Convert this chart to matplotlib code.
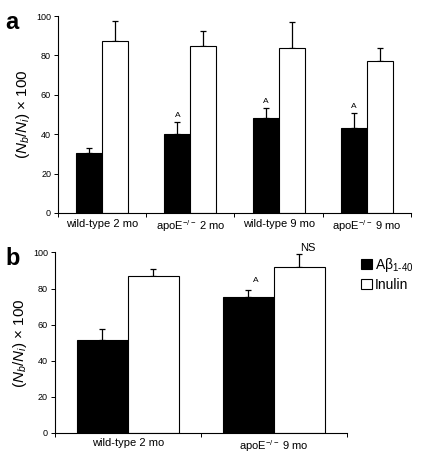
import matplotlib.pyplot as plt
from matplotlib.patches import Patch

plt.rcParams['font.family'] = ['Liberation Sans', 'DejaVu Sans']
plt.rcParams['mathtext.fontset'] = 'custom'
plt.rcParams['mathtext.rm'] = 'Liberation Sans'
plt.rcParams['mathtext.it'] = 'Liberation Sans:italic'

# panel a
groups_a = ['wild-type 2 mo', 'apoE$^{-/-}$ 2 mo', 'wild-type 9 mo', 'apoE$^{-/-}$ 9 mo']
abeta_a = [30.7, 40.0, 48.0, 43.4]
abeta_err_a = [2.1, 6.3, 5.5, 7.6]
inulin_a = [87.5, 85.0, 83.6, 77.0]
inulin_err_a = [10.0, 7.4, 13.5, 6.6]
marks_a = ['', 'A', 'A', 'A']

# panel b
groups_b = ['wild-type 2 mo', 'apoE$^{-/-}$ 9 mo']
abeta_b = [51.7, 75.3]
abeta_err_b = [5.9, 4.0]
inulin_b = [87.1, 91.7]
inulin_err_b = [3.7, 7.4]
marks_b_abeta = ['', 'A']
marks_b_inulin = ['', 'NS']

ylabel = r'$(N_b/N_i)$ × 100'


def style_axis(ax, n):
    ax.set_xlim(-0.5, n - 0.5)
    ax.set_ylim(0, 100)
    ax.set_yticks(range(0, 101, 20))
    ax.set_xticks(range(n))
    ax.set_xticks([i - 0.5 for i in range(n + 1)], minor=True)
    ax.tick_params(axis='x', which='major', length=0, labelsize=8, pad=4)
    ax.tick_params(axis='x', which='minor', length=3, width=0.7, direction='out')
    ax.tick_params(axis='y', length=3, width=0.7, direction='out', labelsize=6.5, pad=2)
    for s in ['top', 'right']:
        ax.spines[s].set_visible(False)
    for s in ['left', 'bottom']:
        ax.spines[s].set_linewidth(0.8)
    ax.set_ylabel(ylabel, fontsize=11, labelpad=3)


def draw_pair(ax, black, black_err, white, white_err, width):
    x = list(range(len(black)))
    xb = [i - width / 2 for i in x]
    xw = [i + width / 2 for i in x]
    ax.bar(xb, black, width, color='black', edgecolor='black', linewidth=0.8, zorder=2)
    ax.bar(xw, white, width, color='white', edgecolor='black', linewidth=0.8, zorder=2)
    ax.errorbar(xb, black, yerr=[[0] * len(black), black_err], fmt='none',
                ecolor='black', elinewidth=0.9, capsize=2.5, capthick=0.9, zorder=1)
    ax.errorbar(xw, white, yerr=[[0] * len(white), white_err], fmt='none',
                ecolor='black', elinewidth=0.9, capsize=2.5, capthick=0.9, zorder=1)
    return xb, xw


fig = plt.figure(figsize=(4.33, 4.59), dpi=100)

ax1 = fig.add_axes([0.134, 0.536, 0.815, 0.429])
xb, xw = draw_pair(ax1, abeta_a, abeta_err_a, inulin_a, inulin_err_a, 0.295)
for x, v, e, m in zip(xb, abeta_a, abeta_err_a, marks_a):
    if m:
        ax1.text(x, v + e + 1.5, m, ha='center', va='bottom', fontsize=6)
style_axis(ax1, len(groups_a))
ax1.set_xticklabels(groups_a)

ax2 = fig.add_axes([0.127, 0.057, 0.674, 0.393])
xb, xw = draw_pair(ax2, abeta_b, abeta_err_b, inulin_b, inulin_err_b, 0.35)
for x, v, e, m in zip(xb, abeta_b, abeta_err_b, marks_b_abeta):
    if m:
        ax2.text(x + 0.05, v + e + 3, m, ha='center', va='bottom', fontsize=6)
for x, v, e, m in zip(xw, inulin_b, inulin_err_b, marks_b_inulin):
    if m:
        ax2.text(x + 0.06, v + e + 0.5, m, ha='center', va='bottom', fontsize=8)
style_axis(ax2, len(groups_b))
ax2.set_xticklabels(groups_b)

handles = [Patch(facecolor='black', edgecolor='black', linewidth=0.8),
           Patch(facecolor='white', edgecolor='black', linewidth=0.8)]
fig.legend(handles, [r'A$\mathrm{\beta}_{\mathrm{1\text{-}40}}$', 'Inulin'],
           loc='upper left', bbox_to_anchor=(0.82, 0.455), frameon=False,
           fontsize=10, handlelength=0.8, handleheight=0.8, handletextpad=0.2,
           labelspacing=0.3, borderaxespad=0)

fig.text(0.012, 0.975, 'a', fontsize=17, fontweight='bold', va='top', ha='left')
fig.text(0.012, 0.462, 'b', fontsize=17, fontweight='bold', va='top', ha='left')

fig.savefig('out.png', dpi=100)
